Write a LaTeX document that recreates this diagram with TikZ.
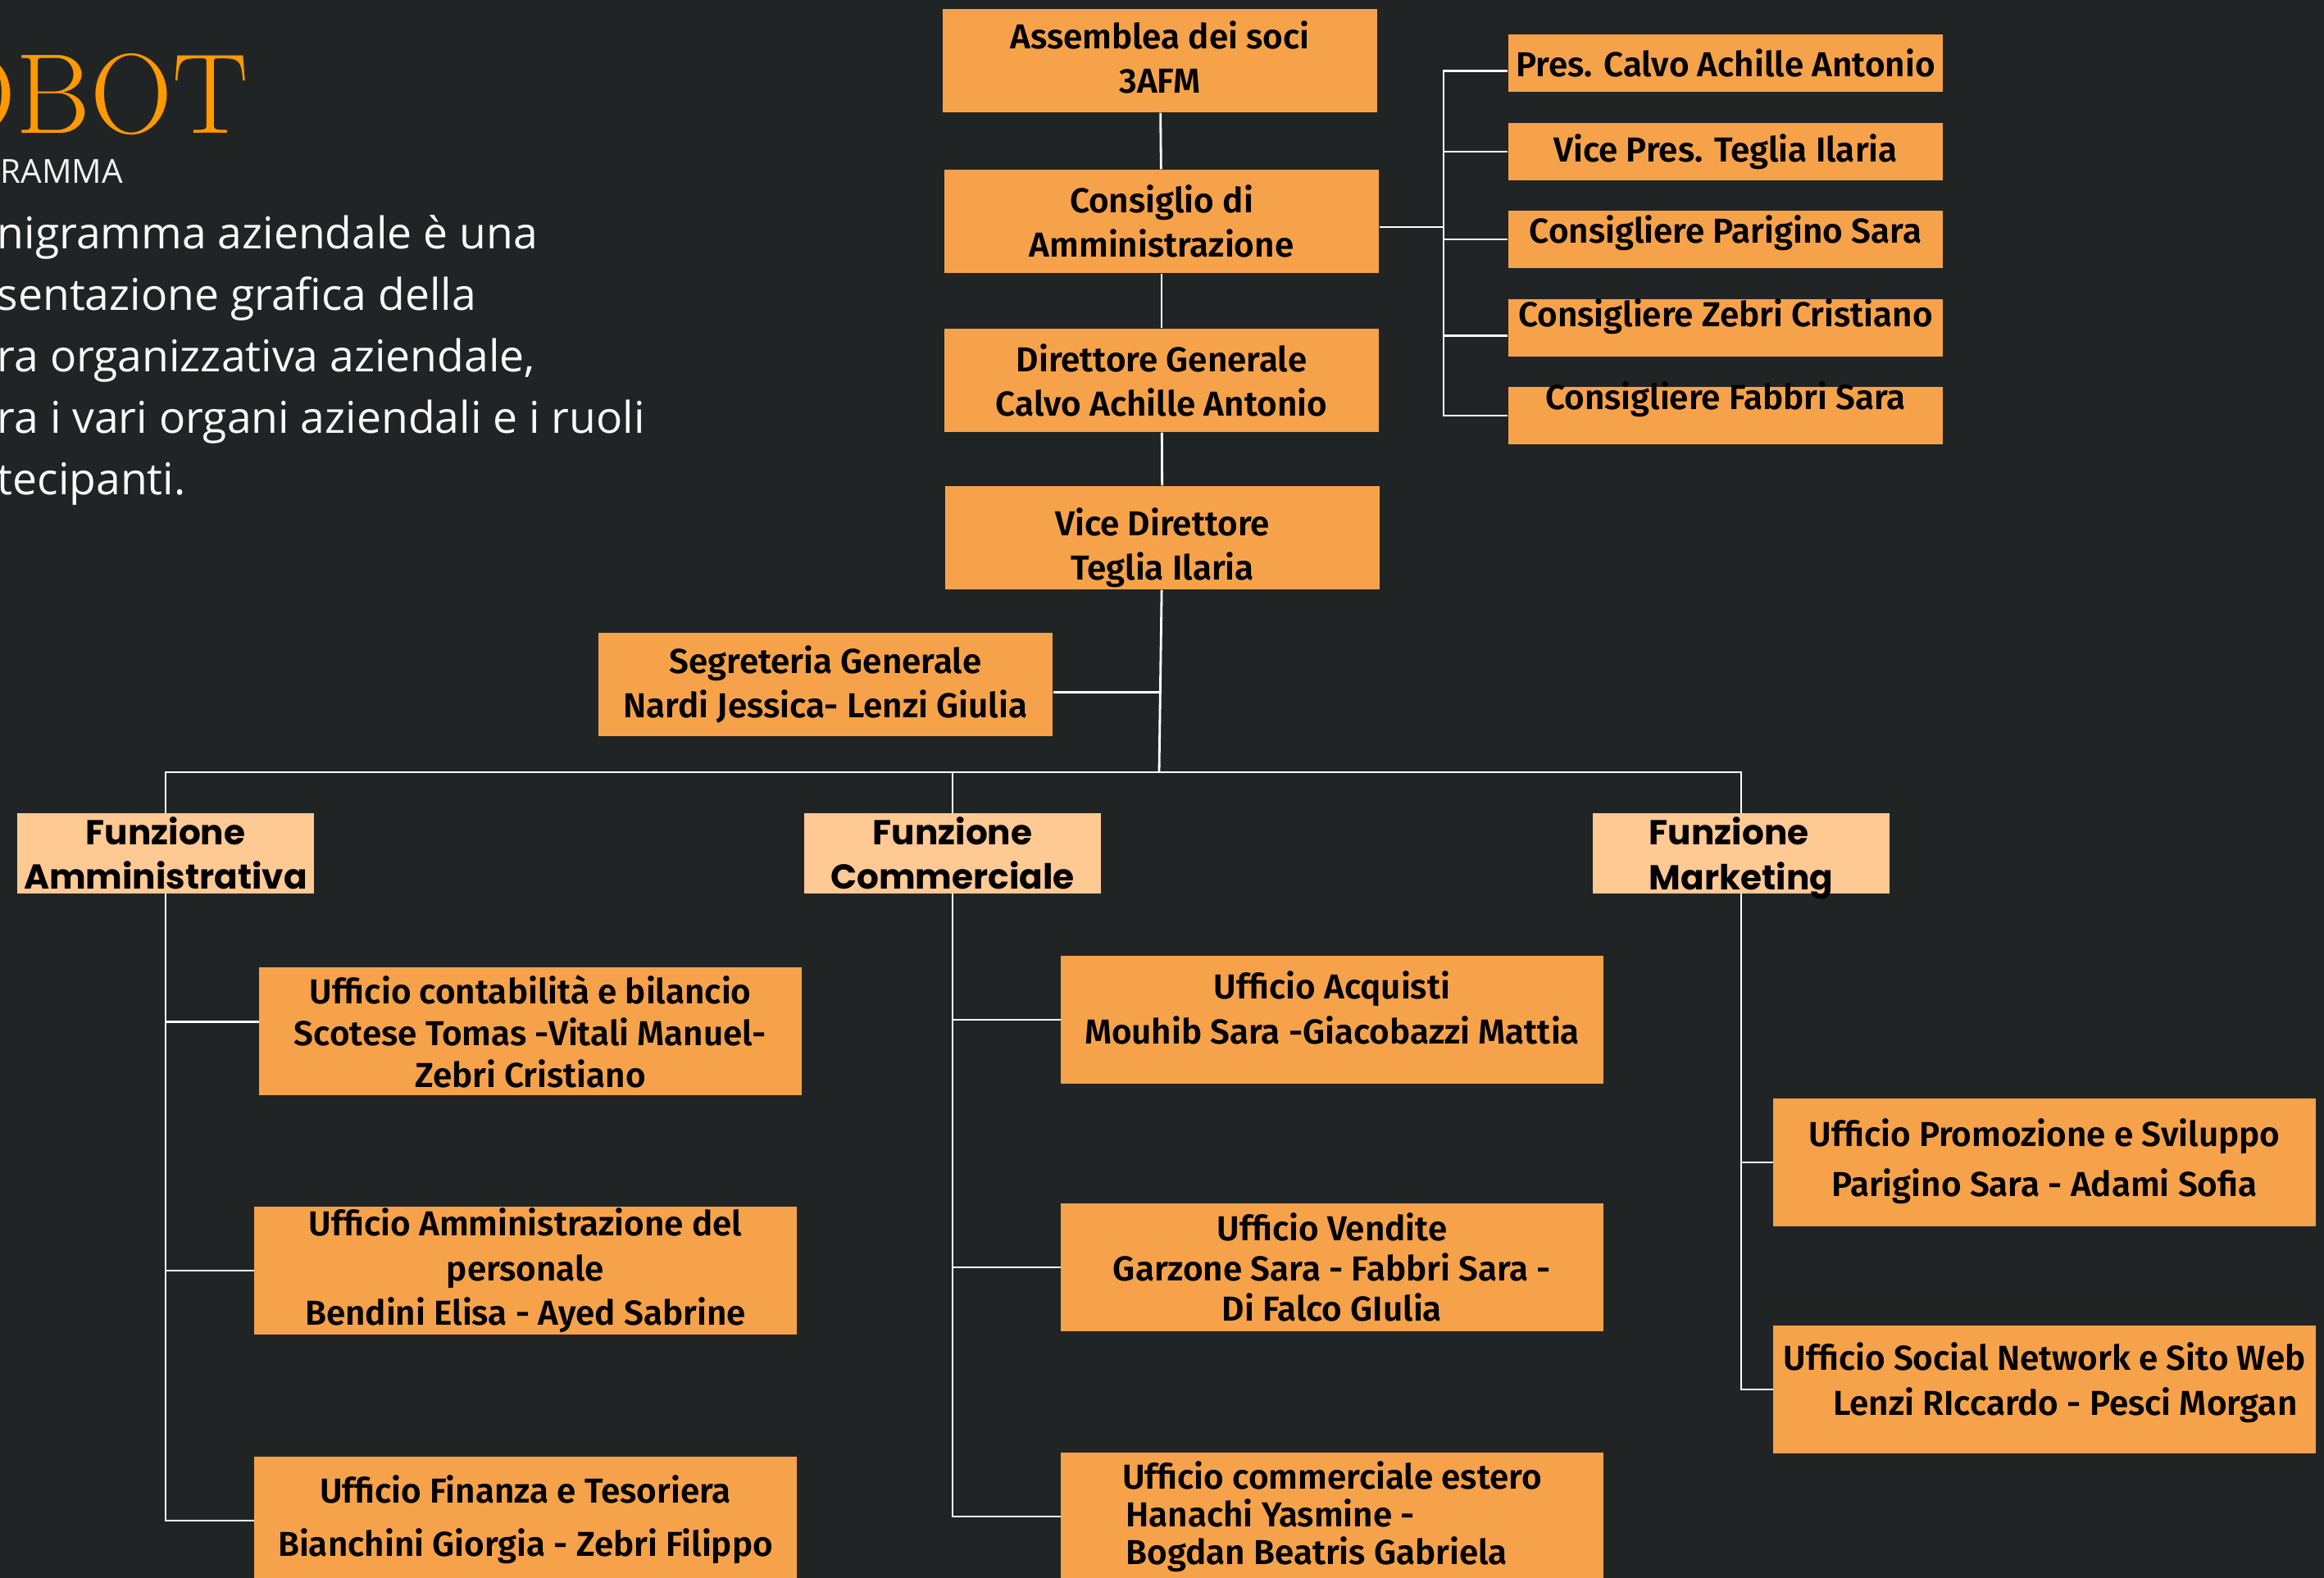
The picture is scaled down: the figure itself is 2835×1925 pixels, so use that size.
\documentclass[tikz,border=0pt]{standalone}
\usepackage{fontspec}
\setmainfont{Open Sans}
\newfontfamily\boxfont{Fira Sans SemiBold}
\newfontfamily\funcfont{Poppins}
\newfontfamily\titlefont{Latin Modern Roman}
\definecolor{bg}{HTML}{212424}
\definecolor{boxorange}{HTML}{F5A24A}
\definecolor{funcorange}{HTML}{FFC994}
\definecolor{titleorange}{HTML}{FF9900}
\tikzstyle{box}=[rectangle,fill=boxorange,inner sep=0pt,minimum width=5.3cm,minimum height=1.26cm,align=center,font=\boxfont\fontsize{12}{15.5}\selectfont]
\tikzstyle{member}=[box,minimum height=0.7cm]
\tikzstyle{office}=[box,minimum width=6.61cm,minimum height=1.55cm]
\tikzstyle{func}=[rectangle,fill=funcorange,inner sep=0pt,minimum width=3.61cm,minimum height=0.97cm,align=center,font=\funcfont\bfseries\fontsize{12}{15.5}\selectfont]
\tikzstyle{link}=[white,line width=0.8pt]

\begin{document}
\begin{tikzpicture}[x=0.01cm,y=-0.01cm]
                    \fill [bg] (0,0) rectangle (2835,1925);
                    \useasboundingbox (0,0) rectangle (2835,1925);

                    \node (title) at (304,163) [anchor=base east,inner sep=0pt,text=titleorange,font=\titlefont\fontsize{39.5}{40}\selectfont] {OBOT};
                    \node (sub) at (0,224) [anchor=base west,inner sep=0pt,text=white!90!gray,font=\fontsize{11.5}{14}\selectfont] {RAMMA};
                    \node (desc) at (-4,262) [anchor=north west,inner sep=0pt,align=left,text=white!95!gray,font=\fontsize{15.2}{21.3}\selectfont] {nigramma aziendale è una\\sentazione grafica della\\ra organizzativa aziendale,\\ra i vari organi aziendali e i ruoli\\tecipanti.};

                    \node (ass) at (1415,74) [box] {Assemblea dei soci\\3AFM\\[-13pt]\mbox{}};
                    \node (cda) at (1417,270) [box] {Consiglio di\\Amministrazione};
                    \node (dg) at (1417,464) [box] {Direttore Generale\\Calvo Achille Antonio};
                    \node (vd) at (1418,656) [box] {\mbox{}\\[1pt]Vice Direttore\\Teglia Ilaria};
                    \node (seg) at (1007,835) [box,minimum width=5.54cm] {Segreteria Generale\\Nardi Jessica- Lenzi Giulia};

                    \node (p1) at (2105,77) [member] {Pres. Calvo Achille Antonio};
                    \node (p2) at (2105,185) [member] {Vice Pres. Teglia Ilaria};
                    \node (p3) at (2105,292) [member,text height=0.40cm,text depth=0.30cm] {Consigliere Parigino Sara};
                    \node (p4) at (2105,400) [member,text height=0.34cm,text depth=0.36cm] {Consigliere Zebri Cristiano};
                    \node (p5) at (2105,507) [member,text height=0.28cm,text depth=0.42cm] {Consigliere Fabbri Sara};

                    \node (fa) at (202,1041) [func] {Funzione\\Amministrativa};
                    \node (fc) at (1162,1041) [func] {Funzione\\Commerciale};
                    \node (fm) at (2124,1041) [func,align=left,text depth=0pt] {Funzione\\Marketing};

                    \node (a1) at (647,1258) [office,font=\boxfont\fontsize{12}{14.5}\selectfont] {Ufficio contabilità e bilancio\\Scotese Tomas -Vitali Manuel-\\Zebri Cristiano};
                    \node (a2) at (641,1550) [office] {Ufficio Amministrazione del\\personale\\Bendini Elisa - Ayed Sabrine};
                    \node (a3) at (641,1855) [office] {Ufficio Finanza e Tesoriera\\[3pt]Bianchini Giorgia - Zebri Filippo\\[-12pt]\mbox{}};

                    \node (c1) at (1625,1244) [office] {Ufficio Acquisti\\Mouhib Sara -Giacobazzi Mattia\\[-7pt]\mbox{}};
                    \node (c2) at (1625,1546) [office,font=\boxfont\fontsize{12}{14}\selectfont] {Ufficio Vendite\\Garzone Sara - Fabbri Sara -\\Di Falco GIulia};
                    \node (c3) at (1625,1850) [office,align=left,font=\boxfont\fontsize{12}{13}\selectfont] {Ufficio commerciale estero\\\hspace*{0.1em}Hanachi Yasmine -\\\hspace*{0.1em}Bogdan Beatris Gabriela};

                    \node (m1) at (2494,1418) [office] {Ufficio Promozione e Sviluppo\\[2pt]Parigino Sara - Adami Sofia\\[-12pt]\mbox{}};
                    \node (m2) at (2494,1695) [office] {Ufficio Social Network e Sito Web\\\hspace*{1.2em}Lenzi RIccardo - Pesci Morgan\\[-8pt]\mbox{}};

                    \coordinate (bus) at (1414,942);
                    \coordinate (rb) at (1761,277);

                    \draw [link] (ass) -- (cda);
                    \draw [link] (cda) -- (dg);
                    \draw [link] (dg) -- (vd);
                    \draw [link] (vd) -- (bus);
                    \draw [link] (seg.358) -- (seg.358 -| bus);

                    \draw [link] (cda.east |- rb) -- (rb);
                    \draw [link] (p1.182) -- (p1.182 -| rb) |- (p5.west);
                    \draw [link] (p2.west) -- (p2.west -| rb);
                    \draw [link] (p3.west) -- (p3.west -| rb);
                    \draw [link] (p4.182) -- (p4.182 -| rb);

                    \draw [link] (fa) |- (bus) -| (fm);
                    \draw [link] (fc) -- (fc |- bus);

                    \draw [link] (fa) |- (a3);
                    \draw [link] (a1.178) -- (a1.178 -| fa);
                    \draw [link] (a2.west) -- (a2.west -| fa);

                    \draw [link] (fc) |- (c3);
                    \draw [link] (c1.west) -- (c1.west -| fc);
                    \draw [link] (c2.west) -- (c2.west -| fc);

                    \draw [link] (fm) |- (m2);
                    \draw [link] (m1.west) -- (m1.west -| fm);
                \end{tikzpicture}
\end{document}
